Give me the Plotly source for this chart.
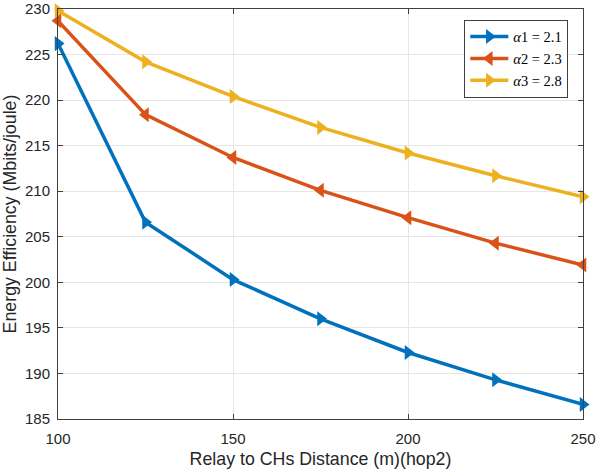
import plotly.graph_objects as go

distance = [100, 125, 150, 175, 200, 225, 250]
ee_alpha1 = [226.2, 206.6, 200.3, 196.0, 192.3, 189.3, 186.6]
ee_alpha2 = [228.7, 218.4, 213.7, 210.1, 207.1, 204.3, 201.9]
ee_alpha3 = [229.8, 224.2, 220.4, 217.0, 214.2, 211.7, 209.4]
series_names = ["<i>α</i>1 = 2.1", "<i>α</i>2 = 2.3", "<i>α</i>3 = 2.8"]
x_ticks = [100, 150, 200, 250]
y_ticks = [185, 190, 195, 200, 205, 210, 215, 220, 225, 230]

colors = ["#0072BD", "#D95319", "#EDB120"]
symbols = ["triangle-right", "triangle-left", "triangle-right"]

fig = go.Figure()
for vals, name, c, s in zip([ee_alpha1, ee_alpha2, ee_alpha3], series_names, colors, symbols):
    fig.add_trace(go.Scatter(
        x=distance, y=vals, name=name, mode="lines+markers",
        line=dict(color=c, width=3.5),
        marker=dict(symbol=s, size=13, color=c),
        cliponaxis=False,
    ))

sans = "Liberation Sans, Arial, sans-serif"
axis_common = dict(
    showline=True, linecolor="#404040", linewidth=1, mirror="allticks",
    ticks="inside", ticklen=5, tickcolor="#404040",
    showgrid=True, gridcolor="#E6E6E6", gridwidth=1,
    zeroline=False, automargin=False,
    tickfont=dict(family=sans, size=15, color="#262626"),
)

fig.update_layout(
    width=596, height=470,
    margin=dict(l=58, r=13, t=9, b=51),
    paper_bgcolor="white", plot_bgcolor="white",
    xaxis=dict(
        range=[100, 250], tickvals=x_ticks, ticklabelstandoff=6,
        title=dict(text="Relay to CHs Distance (m)(hop2)", standoff=6,
                   font=dict(family=sans, size=17.8, color="#262626")),
        **axis_common,
    ),
    yaxis=dict(
        range=[185, 230], tickvals=y_ticks, ticklabelstandoff=4,
        title=dict(text="Energy Efficiency (Mbits/joule)", standoff=6,
                   font=dict(family=sans, size=17.8, color="#262626")),
        **axis_common,
    ),
    legend=dict(
        x=0.972, y=0.974, xanchor="right", yanchor="top",
        bgcolor="white", bordercolor="#404040", borderwidth=1,
        font=dict(family="Liberation Serif, DejaVu Serif, serif", size=14.5, color="#000000"),
        tracegroupgap=0, itemwidth=38,
    ),
    showlegend=True,
)

fig.write_html("out.html", config={"displayModeBar": False},
               post_script="document.body.style.margin='0';")
